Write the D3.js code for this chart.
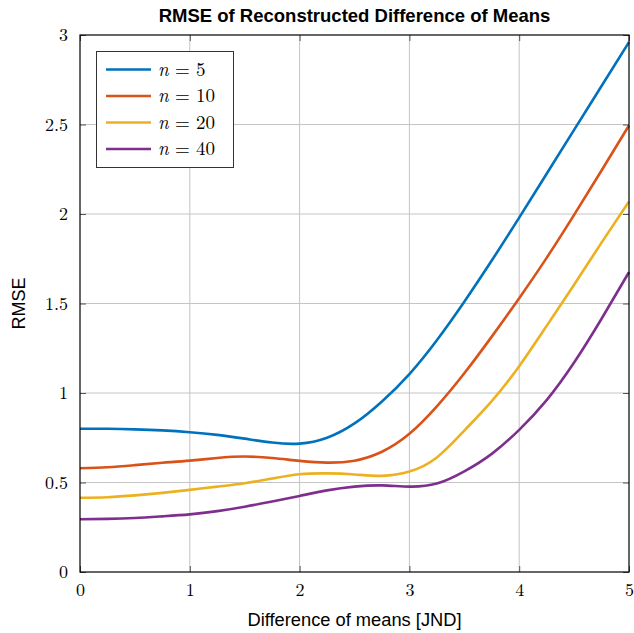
<!DOCTYPE html>
<html><head><meta charset="utf-8">
<script src="https://cdn.jsdelivr.net/npm/d3@7"></script>
<style>body{margin:0;background:#fff}</style>
</head><body>
<svg id="c" width="634" height="633"></svg>
<script>
const xs = [0,0.25,0.5,0.75,1,1.25,1.5,1.75,2,2.25,2.5,2.75,3,3.25,3.5,3.75,4,4.25,4.5,4.75,5];
const n5  = [0.800,0.800,0.797,0.791,0.781,0.766,0.745,0.723,0.717,0.750,0.830,0.953,1.106,1.295,1.510,1.740,1.980,2.225,2.470,2.715,2.960];
const n10 = [0.580,0.585,0.597,0.610,0.622,0.637,0.645,0.637,0.621,0.611,0.622,0.672,0.772,0.925,1.110,1.315,1.530,1.755,1.995,2.243,2.495];
const n20 = [0.415,0.418,0.428,0.442,0.459,0.477,0.496,0.522,0.546,0.551,0.545,0.537,0.561,0.640,0.790,0.955,1.150,1.375,1.605,1.840,2.070];
const n40 = [0.295,0.297,0.302,0.311,0.322,0.340,0.365,0.394,0.425,0.456,0.477,0.484,0.477,0.494,0.562,0.660,0.794,0.960,1.170,1.415,1.675];
const seriesN = ["5","10","20","40"];
const colors = ["#0072BD","#D95319","#EDB120","#7E2F8E"];
const xTicks = [0,1,2,3,4,5];
const yTicks = [0,0.5,1,1.5,2,2.5,3];
const title = "RMSE of Reconstructed Difference of Means";
const xLabel = "Difference of means [JND]";
const yLabel = "RMSE";

const L = 80, R = 629, T = 35, B = 572;
const svg = d3.select("#c");
const x = d3.scaleLinear().domain([0,5]).range([L,R]);
const y = d3.scaleLinear().domain([0,3]).range([B,T]);

// grid
const g = svg.append("g");
g.selectAll(".gx").data(xTicks.slice(1,-1)).join("line")
  .attr("x1",d=>x(d)).attr("x2",d=>x(d)).attr("y1",B).attr("y2",T)
  .attr("stroke","#c4c4c4").attr("stroke-width",1);
g.selectAll(".gy").data(yTicks.slice(1,-1)).join("line")
  .attr("y1",d=>y(d)).attr("y2",d=>y(d)).attr("x1",L).attr("x2",R)
  .attr("stroke","#c4c4c4").attr("stroke-width",1);

// axes (inward ticks on all sides)
const tickStyle = sel => { sel.select(".domain").remove(); sel.selectAll(".tick line").attr("stroke","#555"); };
const fontSerif = "'Latin Modern Roman','CMU Serif','Liberation Serif',serif";
const xa = svg.append("g").attr("transform",`translate(0,${B})`)
  .call(d3.axisBottom(x).tickValues(xTicks).tickSize(-6).tickPadding(11).tickFormat(d3.format("d")));
tickStyle(xa);
xa.selectAll("text").attr("font-family",fontSerif).attr("font-size",18).attr("fill","#000");
const xt = svg.append("g").attr("transform",`translate(0,${T})`)
  .call(d3.axisTop(x).tickValues(xTicks).tickSize(-6).tickFormat(""));
tickStyle(xt);
const ya = svg.append("g").attr("transform",`translate(${L},0)`)
  .call(d3.axisLeft(y).tickValues(yTicks).tickSize(-6).tickPadding(12).tickFormat(d=>String(d)));
tickStyle(ya);
ya.selectAll("text").attr("font-family",fontSerif).attr("font-size",18).attr("fill","#000");
const yr = svg.append("g").attr("transform",`translate(${R},0)`)
  .call(d3.axisRight(y).tickValues(yTicks).tickSize(-6).tickFormat(""));
tickStyle(yr);

// lines
const allSeries = [n5,n10,n20,n40];
const line = d3.line().x((d,i)=>x(xs[i])).y(d=>y(d)).curve(d3.curveNatural);
svg.append("g").selectAll("path").data(allSeries).join("path")
  .attr("d",d=>line(d)).attr("fill","none")
  .attr("stroke",(d,i)=>colors[i]).attr("stroke-width",2.6);

// frame
svg.append("rect").attr("x",L).attr("y",T).attr("width",R-L).attr("height",B-T)
  .attr("fill","none").attr("stroke","#000").attr("stroke-width",1.2);

// legend
const lg = svg.append("g");
lg.append("rect").attr("x",96.5).attr("y",51.5).attr("width",137).attr("height",116)
  .attr("fill","#fff").attr("stroke","#333").attr("stroke-width",1);
seriesN.forEach((nv,i)=>{
  const yy = 69.5 + i*26.5;
  lg.append("line").attr("x1",106).attr("x2",151).attr("y1",yy).attr("y2",yy)
    .attr("stroke",colors[i]).attr("stroke-width",2.6);
  const t = lg.append("text").attr("x",158).attr("y",yy+6)
    .attr("font-family",fontSerif).attr("font-size",19).attr("fill","#000");
  t.append("tspan").attr("font-style","italic").text("n");
  t.append("tspan").text(" = " + nv);
});

// titles
svg.append("text").attr("x",(L+R)/2).attr("y",22).attr("text-anchor","middle")
  .attr("font-family","'Liberation Sans',Arial,sans-serif").attr("font-weight","bold")
  .attr("font-size",18.5).text(title);
svg.append("text").attr("x",(L+R)/2).attr("y",626).attr("text-anchor","middle")
  .attr("font-family","'Liberation Sans',Arial,sans-serif").attr("font-size",18.3).text(xLabel);
svg.append("text").attr("transform",`translate(25,${(T+B)/2}) rotate(-90)`).attr("text-anchor","middle")
  .attr("font-family","'Liberation Sans',Arial,sans-serif").attr("font-size",18).text(yLabel);
</script>
</body></html>
